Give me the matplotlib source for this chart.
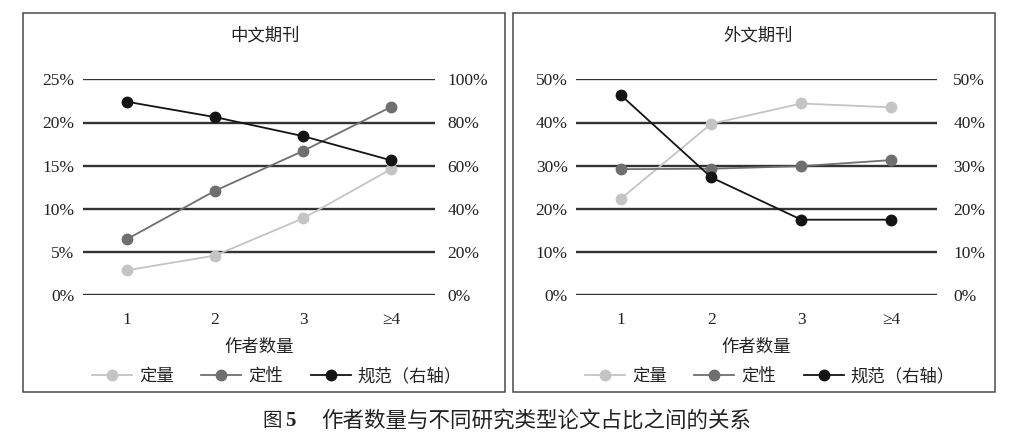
import matplotlib
matplotlib.use("Agg")
import matplotlib.pyplot as plt
from matplotlib.patches import Rectangle
from matplotlib.ticker import FuncFormatter

plt.rcParams["font.family"] = ["Liberation Serif", "DejaVu Serif", "Noto Sans CJK SC"]
CJK = ["Noto Sans CJK SC", "DejaVu Sans"]

# ── data ─────────────────────────────────────────────────────────────────────
categories = ["1", "2", "3", "≥4"]

cn_quant = [2.9, 4.6, 8.9, 14.6]       # 定量 (left axis, %)
cn_qual = [6.5, 12.1, 16.7, 21.8]      # 定性 (left axis, %)
cn_norm = [89.6, 82.5, 73.7, 62.5]     # 规范 (right axis, %)

fr_quant = [22.4, 39.7, 44.4, 43.5]
fr_qual = [29.2, 29.3, 29.9, 31.3]
fr_norm = [46.3, 27.3, 17.5, 17.5]

series_names = ["定量", "定性", "规范（右轴）"]
COLORS = ["#c4c4c4", "#6f6f6f", "#141414"]

W, H = 1023, 441
fig = plt.figure(figsize=(W / 100, H / 100), dpi=100)


def fx(px):
    return px / W


def fy(py):
    return 1 - py / H


def panel(box, ax_rect, title, title_x, quant, qual, norm,
          lmax, lstep, rmax, rstep, lpad, rpad, legend_x):
    # outer frame
    fig.patches.append(Rectangle((fx(box[0]), fy(box[3])),
                                 fx(box[2] - box[0]), (box[3] - box[1]) / H,
                                 transform=fig.transFigure, fill=False,
                                 edgecolor="#4a4a4a", lw=1.1))
    x0, y0, x1, y1 = ax_rect
    ax = fig.add_axes([fx(x0), fy(y1), fx(x1 - x0), (y1 - y0) / H])
    ax2 = ax.twinx()
    xs = list(range(len(categories)))

    h1, = ax.plot(xs, quant, color=COLORS[0], lw=1.3, marker="o", ms=7.5)
    h2, = ax.plot(xs, qual, color=COLORS[1], lw=1.3, marker="o", ms=7.5)
    h3, = ax2.plot(xs, norm, color=COLORS[2], lw=1.3, marker="o", ms=7.5)

    for a, top, step in ((ax, lmax, lstep), (ax2, rmax, rstep)):
        a.set_ylim(0, top)
        a.set_yticks([step * i for i in range(int(top / step) + 1)])
        a.yaxis.set_major_formatter(FuncFormatter(lambda v, p: f"{v:.0f}%"))
        for s in a.spines.values():
            s.set_visible(False)
    ax.set_xlim(-0.5, len(categories) - 0.5)
    ax.set_xticks(xs)
    ax.set_xticklabels(categories)
    ax.tick_params(axis="x", length=0, pad=12, labelsize=12.5, colors="#222222")
    ax.tick_params(axis="y", length=0, pad=lpad, labelsize=12.5, colors="#222222")
    ax2.tick_params(axis="y", length=0, pad=rpad, labelsize=12.5, colors="#222222")
    ax.yaxis.grid(True, color="#333333", lw=1.7)
    ax.set_axisbelow(True)

    fig.text(fx(title_x), fy(35), title, ha="center", va="center",
             fontsize=12.5, family=CJK, color="#222222")
    fig.text(fx((x0 + x1) / 2), fy(347), "作者数量", ha="center", va="center",
             fontsize=12.5, family=CJK, color="#222222")
    leg = fig.legend([h1, h2, h3], series_names, loc="center",
                     bbox_to_anchor=(fx(legend_x), fy(376)), ncol=3,
                     frameon=False, handlelength=2.3, handletextpad=0.4,
                     columnspacing=1.6, prop={"family": CJK, "size": 12.5})
    for t in leg.get_texts():
        t.set_color("#222222")
    return ax


panel((22.7, 12.7, 505, 392), (83, 79.3, 435, 295.3), "中文期刊", 265,
      cn_quant, cn_qual, cn_norm, 25, 5, 100, 20, 6, 9, 277)
panel((513, 12.7, 995, 392), (576, 79.3, 936.5, 295.3), "外文期刊", 758,
      fr_quant, fr_qual, fr_norm, 50, 10, 50, 10, 6, 12, 770)

# caption
fig.text(fx(262), fy(421), "图", ha="left", va="center", fontsize=14,
         family=CJK, color="#222222")
fig.text(fx(285), fy(421), "5", ha="left", va="center", fontsize=15,
         family="Liberation Serif", weight="bold", color="#222222")
fig.text(fx(321), fy(421), "作者数量与不同研究类型论文占比之间的关系", ha="left",
         va="center", fontsize=15.5, family=CJK, color="#222222")

fig.savefig("out.png", dpi=100)
